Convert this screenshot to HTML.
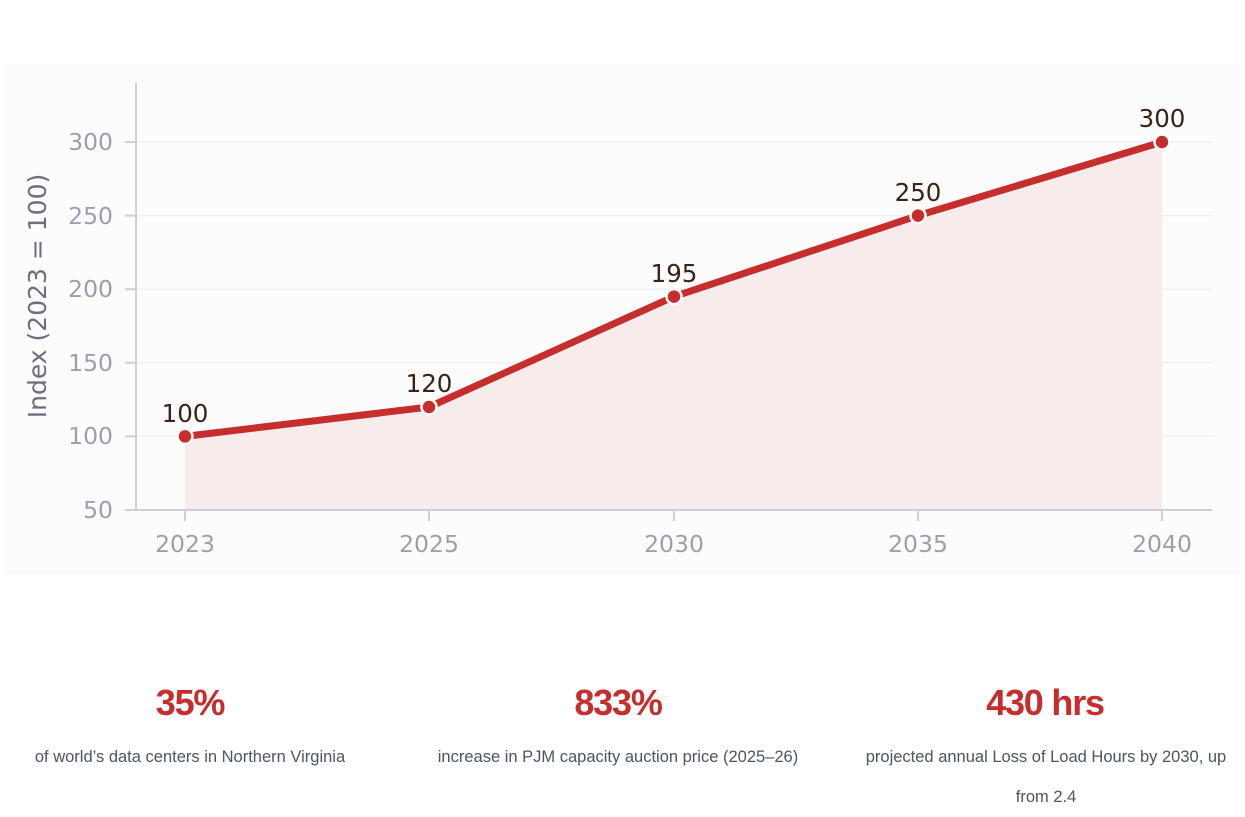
<!DOCTYPE html>
<html><head><meta charset="utf-8"><style>
body{margin:0;width:1245px;height:811px;background:#fff;overflow:hidden;position:relative;font-family:"Liberation Sans",sans-serif}
.n{position:absolute;font-weight:bold;font-size:36px;letter-spacing:-1.2px;color:#c62d2d;text-align:center;width:400px;top:682px}
.c{position:absolute;font-size:16.5px;color:#4b5563;text-align:center;top:737px;line-height:40px}
</style></head><body>
<svg width="1245" height="600" style="position:absolute;left:0;top:0" font-family="DejaVu Sans, sans-serif">
<rect x="5" y="63" width="1235" height="512" fill="#fcfcfc"/>
<g stroke="#efefef" stroke-width="1.3">
<line x1="137" x2="1212" y1="142" y2="142"/><line x1="137" x2="1212" y1="215.6" y2="215.6"/>
<line x1="137" x2="1212" y1="289.2" y2="289.2"/><line x1="137" x2="1212" y1="362.8" y2="362.8"/>
<line x1="137" x2="1212" y1="436.4" y2="436.4"/></g>
<polygon points="185,436.4 429,407 674,296.6 918,215.6 1162,142 1162,510 185,510" fill="#f7ebeb"/>
<g stroke="#cdd0d8" stroke-width="2"><line x1="136" y1="83" x2="136" y2="511"/><line x1="136" y1="510" x2="1212" y2="510"/>
<line x1="125" x2="136" y1="142" y2="142"/><line x1="125" x2="136" y1="215.6" y2="215.6"/><line x1="125" x2="136" y1="289.2" y2="289.2"/><line x1="125" x2="136" y1="362.8" y2="362.8"/><line x1="125" x2="136" y1="436.4" y2="436.4"/><line x1="125" x2="136" y1="510" y2="510"/>
<line x1="185" x2="185" y1="510" y2="521"/><line x1="429" x2="429" y1="510" y2="521"/><line x1="674" x2="674" y1="510" y2="521"/><line x1="918" x2="918" y1="510" y2="521"/><line x1="1162" x2="1162" y1="510" y2="521"/></g>
<g fill="#9ca0ae" font-size="23.5" text-anchor="end"><text x="113" y="150">300</text><text x="113" y="224">250</text><text x="113" y="297">200</text><text x="113" y="371">150</text><text x="113" y="444">100</text><text x="113" y="518">50</text></g>
<g fill="#9ca0ae" font-size="23.5" text-anchor="middle"><text x="185" y="552">2023</text><text x="429" y="552">2025</text><text x="674" y="552">2030</text><text x="918" y="552">2035</text><text x="1162" y="552">2040</text></g>
<text transform="translate(46,296) rotate(-90)" fill="#6b7080" font-size="25" text-anchor="middle">Index (2023 = 100)</text>
<polyline points="185,436.4 429,407 674,296.6 918,215.6 1162,142" fill="none" stroke="#c62d2d" stroke-width="7" stroke-linejoin="round"/>
<g fill="#c62d2d" stroke="#fff" stroke-width="2.5"><circle cx="185" cy="436.4" r="7.5"/><circle cx="429" cy="407" r="7.5"/><circle cx="674" cy="296.6" r="7.5"/><circle cx="918" cy="215.6" r="7.5"/><circle cx="1162" cy="142" r="7.5"/></g>
<g fill="#3a2418" font-size="24.5" text-anchor="middle"><text x="185" y="422">100</text><text x="429" y="392">120</text><text x="674" y="282">195</text><text x="918" y="201">250</text><text x="1162" y="127">300</text></g>
</svg>
<div class="n" style="left:-10px">35%</div>
<div class="n" style="left:418px">833%</div>
<div class="n" style="left:845px">430 hrs</div>
<div class="c" style="left:0;width:380px">of world’s data centers in Northern Virginia</div>
<div class="c" style="left:418px;width:400px">increase in PJM capacity auction price (2025–26)</div>
<div class="c" style="left:858px;width:376px">projected annual Loss of Load Hours by 2030, up from 2.4</div>
</body></html>
